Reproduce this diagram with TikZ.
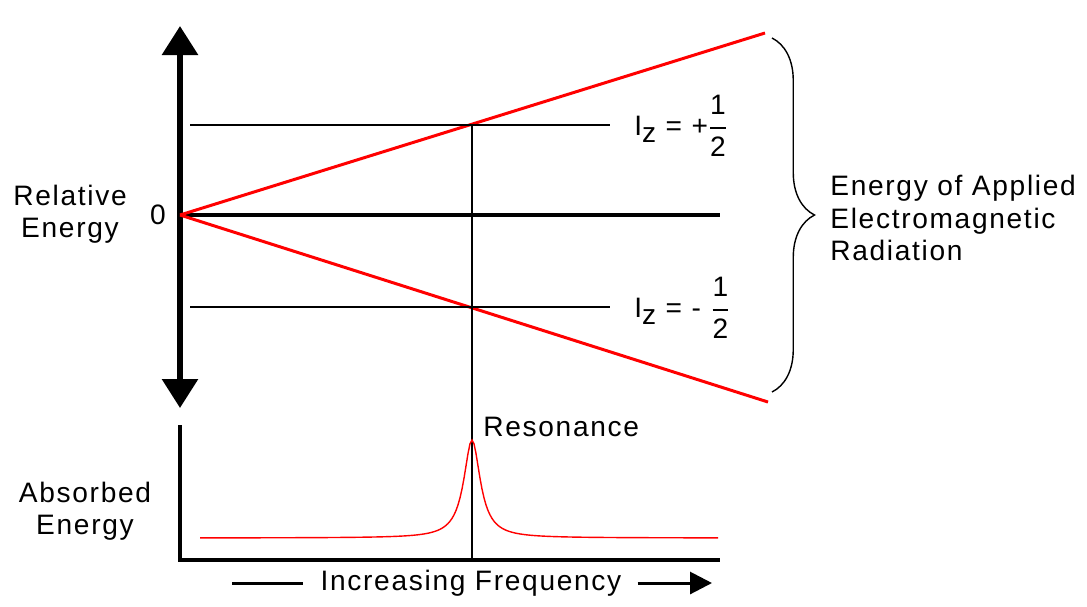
\documentclass[tikz,border=0pt]{standalone}
\usepackage{amsmath}
\usepackage{fontspec}
\setmainfont{Liberation Sans}[LetterSpace=6]
\usetikzlibrary{arrows.meta, positioning, calc, decorations.pathreplacing}

\begin{document}
\begin{tikzpicture}[x=0.02cm, y=-0.02cm, font=\fontsize{16}{18.5}\selectfont,
    lbl/.style={inner sep=0pt, align=center},
    axisline/.style={line width=2.8pt},
    redline/.style={red, line width=1.7pt},
    thinline/.style={line width=0.8pt}]
  \useasboundingbox (0,0) rectangle (1087,606);
  % energy axis
  \coordinate (ytop) at (180,26);
  \coordinate (ybot) at (180,408);
  \coordinate (o) at (180,215);
  \coordinate (zr) at (720,215);
  \draw[line width=3.4pt, {Triangle[width=0.7cm, length=0.58cm]}-{Triangle[width=0.7cm, length=0.58cm]}] (ytop) -- (ybot);
  \draw[axisline] (o) -- (zr);
  \node[lbl, anchor=east] (zero) at (166,215) {0};
  \node[lbl] (relE) at (70,214) {Relative\\Energy};
  % spin levels
  \coordinate (ru) at (765,33);
  \coordinate (rl) at (768,402);
  \draw[redline] (o) -- (ru);
  \draw[redline] (o) -- (rl);
  \coordinate (hu) at (190,125);
  \coordinate (hl) at (190,307);
  \coordinate (pu) at (472,125);
  \node[lbl, anchor=west] (iup) at (634,126) {I\raisebox{-0.45ex}{z} = +$\dfrac{\text{1}}{\text{2}}$};
  \node[lbl, anchor=west] (idn) at (634,308) {I\raisebox{-0.45ex}{z} = - $\dfrac{\text{1}}{\text{2}}$};
  \draw[thinline] (hu) -- (610,125);
  \draw[thinline] (hl) -- (610,307);
  % brace
  \draw[thinline, decorate, decoration={brace, amplitude=0.85cm}] (772,38) -- (772,392)
    coordinate[pos=0.5] (tip);
  \node[lbl, align=left, anchor=west] (emr) at (830,218) {Energy of Applied\\Electromagnetic\\Radiation};
  % absorption plot
  \coordinate (btop) at (180,425);
  \coordinate (bo) at (180,560);
  \coordinate (bend) at (720,560);
  \draw[axisline] (btop) -- (bo) -- (bend);
  \draw[thinline] (pu) -- (pu |- bo);
  \draw[red, line width=0.8pt] plot[domain=200:718, samples=260]
    (\x, {538-98/(1+((\x-472)/10)^2)});
  \node[lbl, anchor=west] (res) at (483,427) {Resonance};
  \node[lbl] (absE) at (85,511) {Absorbed\\Energy};
  % frequency label
  \node[lbl] (freq) at (471,583) {Increasing Frequency};
  \coordinate (f0) at (232,583);
  \coordinate (f1) at (712,583);
  \draw[line width=1.7pt] (f0) -- ([xshift=-10pt]freq.west);
  \draw[line width=1.7pt, -{Triangle[width=0.44cm, length=0.44cm]}] ([xshift=9pt]freq.east) -- (f1);
\end{tikzpicture}
\end{document}
